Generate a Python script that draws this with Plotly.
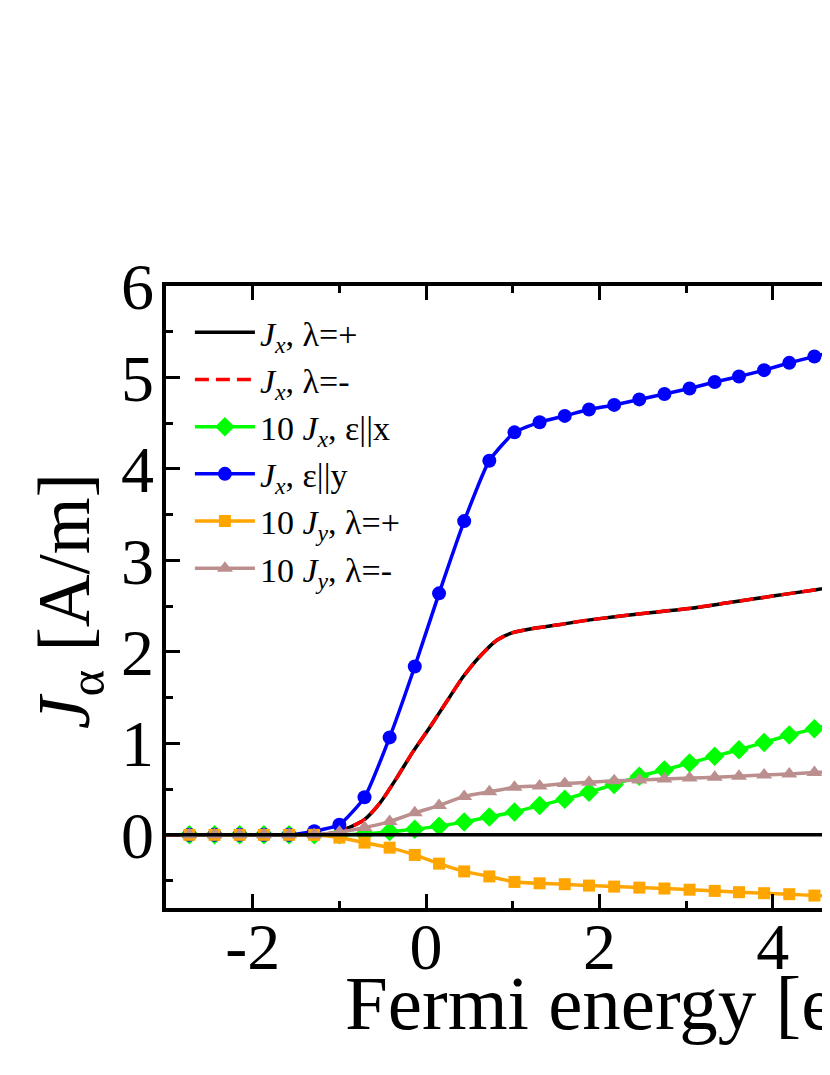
import plotly.graph_objects as go

# 费米能（带标记的曲线）
e_marks = [-2.73, -2.44, -2.15, -1.87, -1.58, -1.29, -1.00, -0.71, -0.42, -0.13,
           0.15, 0.44, 0.73, 1.02, 1.31, 1.60, 1.88, 2.17, 2.46, 2.75,
           3.04, 3.33, 3.61, 3.90, 4.19, 4.48, 4.77, 5.06]

jx_eps_y = [0, 0, 0, 0, 0, 0.04, 0.11, 0.41, 1.065, 1.84,
            2.64, 3.43, 4.09, 4.40, 4.51, 4.58, 4.65, 4.70, 4.76, 4.82,
            4.88, 4.95, 5.01, 5.08, 5.16, 5.23, 5.30, 5.37]
jx_eps_x10 = [0, 0, 0, 0, 0, 0, 0, 0.01, 0.035, 0.06,
              0.095, 0.14, 0.195, 0.25, 0.32, 0.39, 0.465, 0.55, 0.64, 0.71,
              0.785, 0.86, 0.93, 1.01, 1.09, 1.16, 1.24, 1.32]
jy_plus10 = [0, 0, 0, 0, 0, 0, -0.03, -0.085, -0.14, -0.22,
             -0.315, -0.40, -0.455, -0.515, -0.53, -0.54, -0.555, -0.566, -0.577, -0.587,
             -0.60, -0.613, -0.627, -0.638, -0.649, -0.664, -0.675, -0.69]
jy_minus10 = [0, 0, 0, 0, 0, 0, 0.03, 0.08, 0.145, 0.24,
              0.32, 0.42, 0.47, 0.52, 0.535, 0.56, 0.575, 0.59, 0.60, 0.61,
              0.62, 0.63, 0.64, 0.655, 0.665, 0.68, 0.69, 0.70]

# Jx, λ=+ / λ=- 两条曲线重合（无标记）
e_line = [-3.0, -2.0, -1.2, -0.95, -0.72, -0.53, -0.34, -0.15, 0.05, 0.24,
          0.43, 0.62, 0.82, 1.0, 1.2, 1.55, 1.89, 2.5, 3.08, 3.5,
          4.0, 4.5, 5.0]
jx_lambda = [0, 0, 0, 0.055, 0.16, 0.35, 0.62, 0.91, 1.185, 1.46,
             1.73, 1.95, 2.13, 2.21, 2.25, 2.30, 2.35, 2.42, 2.48, 2.54,
             2.61, 2.68, 2.75]

x_tickvals = [-2, 0, 2, 4]
x_ticktext = ['-2', '0', '2', '4']

JX = '<i>J</i><sub><i>x</i></sub>'
JY = '<i>J</i><sub><i>y</i></sub>'

fig = go.Figure()

fig.add_trace(go.Scatter(x=e_line, y=jx_lambda, mode='lines', name=JX + ', λ=+',
                         line=dict(color='black', width=3.5, shape='spline', smoothing=0.6)))
fig.add_trace(go.Scatter(x=e_line, y=jx_lambda, mode='lines', name=JX + ', λ=-',
                         line=dict(color='red', width=3.5, dash='14px,7px', shape='spline', smoothing=0.6)))
fig.add_trace(go.Scatter(x=e_marks, y=jx_eps_x10, mode='lines+markers', name='10 ' + JX + ', ε||x',
                         line=dict(color='#00ff00', width=3.5, shape='spline', smoothing=0.5),
                         marker=dict(symbol='diamond', size=15, color='#00ff00')))
fig.add_trace(go.Scatter(x=e_marks, y=jx_eps_y, mode='lines+markers', name=JX + ', ε||y',
                         line=dict(color='#0000ff', width=3.5, shape='spline', smoothing=0.5),
                         marker=dict(symbol='circle', size=14, color='#0000ff')))
fig.add_trace(go.Scatter(x=e_marks, y=jy_plus10, mode='lines+markers', name='10 ' + JY + ', λ=+',
                         line=dict(color='#ffa500', width=3.5, shape='spline', smoothing=0.5),
                         marker=dict(symbol='square', size=12, color='#ffa500')))
fig.add_trace(go.Scatter(x=e_marks, y=jy_minus10, mode='lines+markers', name='10 ' + JY + ', λ=-',
                         line=dict(color='#bc8f8f', width=3.5, shape='spline', smoothing=0.5),
                         marker=dict(symbol='triangle-up', size=14, color='#bc8f8f')))

# 零线画在曲线上方
fig.add_hline(y=0, line_color='black', line_width=3.5, layer='above')

axis_style = dict(
    showline=True, linewidth=3.5, linecolor='black',
    ticks='inside', ticklen=14, tickwidth=3, tickcolor='black',
    showgrid=False, zeroline=False,
    tickfont=dict(family='Liberation Serif', size=66, color='black'),
)

# 页面 body 有 8px 边距，图的尺寸要小一点，避免出现滚动条
fig.update_layout(
    width=822,
    height=1050,
    margin=dict(l=158, r=0, t=278, b=150),
    plot_bgcolor='white',
    paper_bgcolor='white',
    font=dict(family='Liberation Serif', color='black'),
    xaxis=dict(range=[-3, 4.66], tickmode='array', tickvals=x_tickvals, ticktext=x_ticktext,
               mirror='allticks', ticklabelstandoff=-22,
               minor=dict(tickmode='linear', tick0=0, dtick=1, ticks='inside', ticklen=7,
                          tickwidth=3, tickcolor='black', showgrid=False),
               **axis_style),
    yaxis=dict(range=[-0.8, 6], tickmode='linear', tick0=0, dtick=1, mirror=False,
               ticklabelstandoff=-5,
               minor=dict(tickmode='linear', tick0=0, dtick=0.5, ticks='inside', ticklen=7,
                          tickwidth=3, tickcolor='black', showgrid=False),
               **axis_style),
    legend=dict(x=0.036, y=0.9716, xanchor='left', yanchor='top',
                bgcolor='rgba(0,0,0,0)', itemwidth=60,
                font=dict(family='Liberation Serif', size=34, color='black')),
    annotations=[
        dict(text='Fermi energy [eV]', xref='paper', yref='paper', x=0.2666, y=-0.152,
             xanchor='left', yanchor='middle', showarrow=False,
             font=dict(family='Liberation Serif', size=77, color='black')),
        dict(text='<i>J</i><sub>α</sub> [A/m]', xref='paper', yref='paper', x=-0.1446, y=0.4936,
             xanchor='center', yanchor='middle', textangle=-90, showarrow=False,
             font=dict(family='Liberation Serif', size=73, color='black')),
    ],
)

fig.write_html('out.html')
